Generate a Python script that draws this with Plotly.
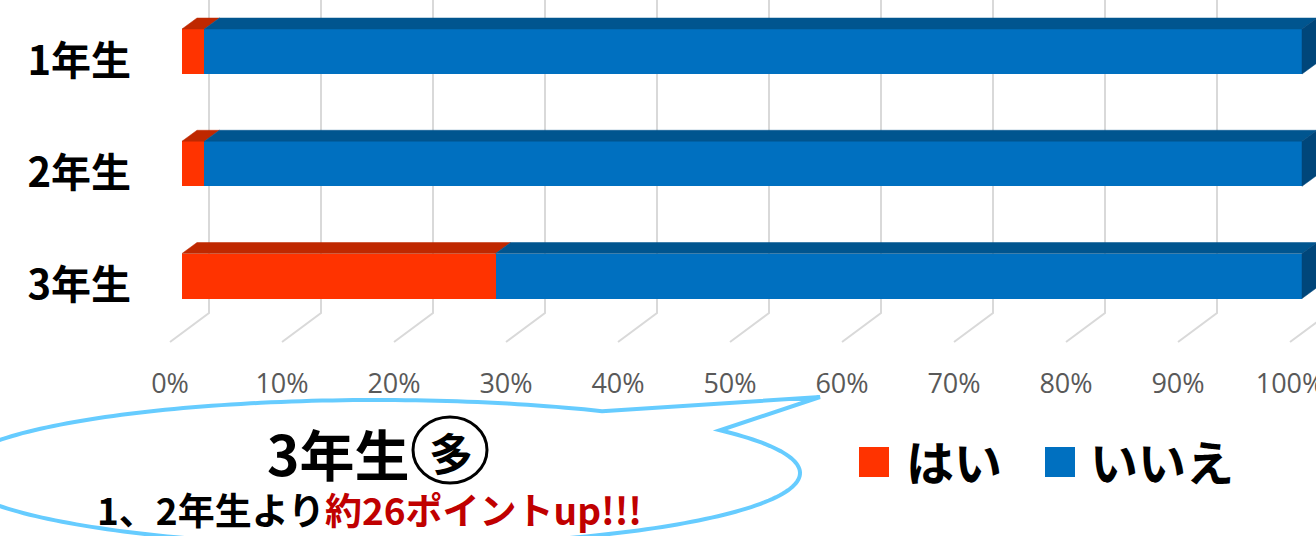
import numpy as np
import plotly.graph_objects as go

# ---------------- data ----------------
categories = ["1年生", "2年生", "3年生"]
series_names = ["はい", "いいえ"]
yes_values = [2, 2, 28]
no_values = [98, 98, 72]
x_ticks = [0, 10, 20, 30, 40, 50, 60, 70, 80, 90, 100]
callout_title = "3年生"
callout_mark = "多"
callout_line_black = "1、2年生より"
callout_line_red = "約26ポイントup!!!"

# ---------------- styling / geometry ----------------
W, H = 1316, 536
ML, MB = 150, 171
PLOT_W, PLOT_H = W - ML, H - MB
PX_PER_PCT = 11.2
X0_PX = 182            # pixel of 0% on bar front plane
CAT0_PX = 51.5         # pixel center of first bar front
PX_PER_CAT = 112.25
BAR_H_PX = 45
TOP_DX, TOP_DY = 15, -11      # bar depth shift (px)
BACK_DX, FRONT_DX = 27, -12   # wall / floor-front shift (px)
FRONT_DY = 9
FLOOR_BACK_PX, FLOOR_FRONT_PX = 313, 342

FONT_JP = "Noto Sans CJK JP"
RED, BLUE = "#FF3300", "#0070C0"
RED_TOP, BLUE_TOP, BLUE_SIDE = "#BF2800", "#00558F", "#00467A"
GRID = "#D9D9D9"

ux = lambda px: px / PX_PER_PCT
uy = lambda px: px / PX_PER_CAT

xr = [(ML - X0_PX) / PX_PER_PCT, (W - X0_PX) / PX_PER_PCT]
yr = [(PLOT_H - CAT0_PX) / PX_PER_CAT, -CAT0_PX / PX_PER_CAT]
xr2 = [xr[0] - ux(FRONT_DX), xr[1] - ux(FRONT_DX)]
yr2 = [yr[0] - uy(FRONT_DY), yr[1] - uy(FRONT_DY)]

def pp(px, py):
    return (px - ML) / PLOT_W, (PLOT_H - py) / PLOT_H

fig = go.Figure()
bar_w = BAR_H_PX / PX_PER_CAT
ypos = list(range(len(categories)))

fig.add_trace(go.Bar(y=ypos, x=yes_values, name=series_names[0], orientation="h",
                     width=bar_w, marker=dict(color=RED, line=dict(width=0)),
                     showlegend=False, hoverinfo="skip"))
fig.add_trace(go.Bar(y=ypos, x=no_values, name=series_names[1], orientation="h",
                     width=bar_w, marker=dict(color=BLUE, line=dict(width=0)),
                     showlegend=False, hoverinfo="skip"))

# 3D top and side faces, derived from the data
dx, dy = ux(TOP_DX), uy(TOP_DY)
for i, (a, b) in enumerate(zip(yes_values, no_values)):
    yt = i - bar_w / 2
    yb = i + bar_w / 2
    for (s, e, c) in [(0, a, RED_TOP), (a, a + b, BLUE_TOP)]:
        fig.add_trace(go.Scatter(x=[s, e, e + dx, s + dx, s], y=[yt, yt, yt + dy, yt + dy, yt],
                                 fill="toself", fillcolor=c, mode="lines",
                                 line=dict(color=c, width=0.5), showlegend=False, hoverinfo="skip"))
    e = a + b
    fig.add_trace(go.Scatter(x=[e, e + dx, e + dx, e, e], y=[yt, yt + dy, yb + dy, yb, yt],
                             fill="toself", fillcolor=BLUE_SIDE, mode="lines",
                             line=dict(color=BLUE_SIDE, width=0.5), showlegend=False, hoverinfo="skip"))

# trace for the label axes
fig.add_trace(go.Scatter(x=[None] * len(categories), y=ypos, xaxis="x2", yaxis="y2",
                         mode="markers", showlegend=False, hoverinfo="skip"))

shapes = []
# back wall + floor gridlines
fb = (FLOOR_BACK_PX - CAT0_PX) / PX_PER_CAT
ff = (FLOOR_FRONT_PX - CAT0_PX) / PX_PER_CAT
for v in x_ticks:
    xb = v + ux(BACK_DX)
    xf = v + ux(FRONT_DX)
    shapes.append(dict(type="path", xref="x", yref="y", layer="below",
                       path=f"M {xb},{yr[1]} L {xb},{fb} L {xf},{ff}",
                       line=dict(color=GRID, width=2)))

# callout bubble
cx, cy, rx, ry = 377, 473, 423, 73
tA = np.degrees(np.arccos((602 - cx) / rx))
tB = np.degrees(np.arccos((720 - cx) / rx))
ts = np.radians(np.linspace(tB, tA - 360, 240))
pts = [(602, cy - ry * np.sin(np.radians(tA))), (820, 397)]
pts += [(cx + rx * np.cos(t), cy - ry * np.sin(t)) for t in ts]
path = ""
for k, (px, py) in enumerate(pts):
    X, Y = pp(px, py)
    path += ("M " if k == 0 else " L ") + f"{X:.5f},{Y:.5f}"
path += " Z"
shapes.append(dict(type="path", xref="paper", yref="paper", path=path,
                   line=dict(color="#66CCFF", width=4), fillcolor="rgba(0,0,0,0)"))
# circle around 多
c0 = pp(413, 483); c1 = pp(487, 417)
shapes.append(dict(type="circle", xref="paper", yref="paper", x0=c0[0], y0=c0[1], x1=c1[0], y1=c1[1],
                   line=dict(color="black", width=3)))

# legend squares
for (sx, col) in [(859, RED), (1045, BLUE)]:
    a0 = pp(sx, 477); a1 = pp(sx + 30, 447)
    shapes.append(dict(type="rect", xref="paper", yref="paper", x0=a0[0], y0=a0[1], x1=a1[0], y1=a1[1],
                       fillcolor=col, line=dict(width=0)))

annotations = []
def ann(text, px, py, size, color="black", xanchor="center"):
    X, Y = pp(px, py)
    annotations.append(dict(text=text, x=X, y=Y, xref="paper", yref="paper", showarrow=False,
                            xanchor=xanchor, yanchor="middle",
                            font=dict(family=FONT_JP, size=size, color=color, weight="bold")))

ann(callout_title, 338, 452, 55)
ann(callout_mark, 451, 452, 44)
ann(f"{callout_line_black}<span style='color:#C00000'>{callout_line_red}</span>", 369, 509, 37)
ann(series_names[0], 904, 460, 48, xanchor="left")
ann(series_names[1], 1088, 460, 48, xanchor="left")

fig.update_layout(
    width=W, height=H, autosize=False, margin=dict(l=ML, r=0, t=0, b=MB, pad=0, autoexpand=False),
    paper_bgcolor="white", plot_bgcolor="white", barmode="stack", bargap=0,
    showlegend=False, shapes=shapes, annotations=annotations,
    xaxis=dict(range=xr, showgrid=False, zeroline=False, showticklabels=False, showline=False,
               fixedrange=True, automargin=False),
    yaxis=dict(range=yr, showgrid=False, zeroline=False, showticklabels=False, showline=False,
               fixedrange=True, automargin=False),
    xaxis2=dict(range=xr2, overlaying="x", anchor="y", side="bottom", showgrid=False, zeroline=False,
                showline=False, tickmode="array", tickvals=x_ticks, automargin=False,
                ticktext=[f"{v}%" for v in x_ticks], ticks="", ticklabeloverflow="allow",
                tickfont=dict(family="Open Sans", size=27, color="#595959"), fixedrange=True),
    yaxis2=dict(range=yr2, overlaying="y", anchor="x", side="left", showgrid=False, zeroline=False,
                showline=False, tickmode="array", tickvals=ypos, ticktext=categories, ticks="",
                ticklabelstandoff=18, automargin=False,
                tickfont=dict(family=FONT_JP, size=40, color="black", weight="bold"), fixedrange=True),
)

fig.write_html("out.html", config={"responsive": False, "displayModeBar": False},
               post_script="document.body.style.margin='0';")
